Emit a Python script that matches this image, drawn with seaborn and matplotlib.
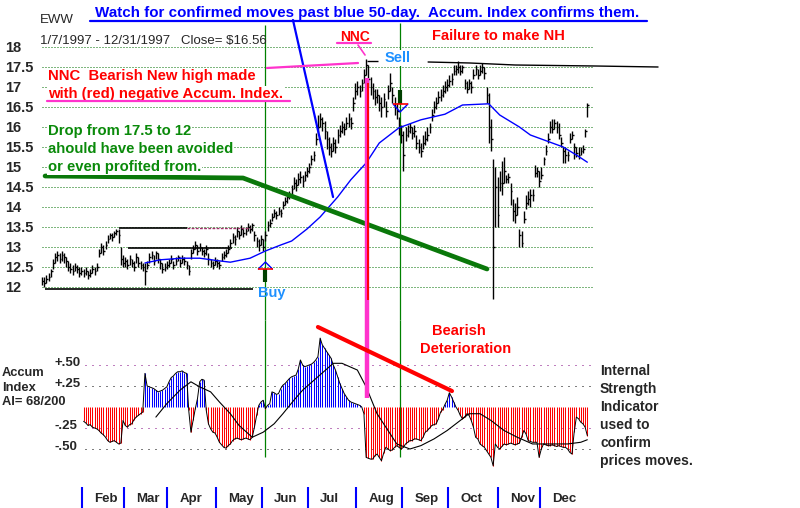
import numpy as np
import pandas as pd
import matplotlib
matplotlib.use('Agg')
import matplotlib.pyplot as plt
import seaborn as sns

# trading days 1/7/1997 - 12/31/1997
holidays = ['1997-02-17', '1997-03-28', '1997-05-26', '1997-07-04',
            '1997-09-01', '1997-11-27', '1997-12-25']
days = pd.bdate_range('1997-01-07', '1997-12-31')
days = days[~days.isin(pd.to_datetime(holidays))]

# daily bars (Jan .. Dec)
close = [12.15, 12.10, 12.20, 12.25, 12.40, 12.60, 12.75, 12.80, 12.70, 12.80, 12.75, 12.65, 12.50, 12.45, 12.40, 12.50, 12.45, 12.35, 12.40,
         12.35, 12.40, 12.30, 12.35, 12.45, 12.40, 12.50, 12.85, 13.00, 12.90, 13.05, 13.20, 13.30, 13.25, 13.35, 13.40, 13.30, 12.70, 12.60,
         12.65, 12.55, 12.70, 12.60, 12.50, 12.75, 12.60, 12.55, 12.50, 12.40, 12.55, 12.75, 12.80, 12.65, 12.85, 12.70, 12.60, 12.45, 12.50, 12.55,
         12.60, 12.70, 12.55, 12.65, 12.75, 12.60, 12.70, 12.65, 12.55, 12.40, 12.85, 12.95, 13.05, 12.90, 13.00, 12.90, 12.85, 12.95, 12.70, 12.60, 12.55, 12.65,
         12.60, 12.55, 12.75, 12.80, 12.85, 12.95, 13.10, 13.25, 13.20, 13.40, 13.30, 13.45, 13.35, 13.40, 13.50, 13.45, 13.55, 13.30, 13.15, 13.05, 13.20,
         13.00, 13.30, 13.55, 13.60, 13.75, 13.85, 13.80, 13.90, 13.85, 14.05, 14.15, 14.25, 14.30, 14.45, 14.60, 14.55, 14.70, 14.75, 14.65, 14.80, 14.90,
         15.00, 15.20, 15.30, 15.70, 16.00, 16.20, 16.10, 15.90, 15.70, 15.50, 15.40, 15.60, 15.50, 15.80, 15.90, 16.00, 15.95, 16.10, 16.20, 16.10, 16.60, 16.90,
         17.00, 16.90, 17.10, 17.30, 17.55, 17.20, 17.00, 16.90, 16.75, 16.80, 16.60, 16.50, 16.70, 16.40, 16.90, 17.10, 16.80, 16.50, 16.40, 16.00, 15.80,
         15.30, 15.80, 15.90, 16.00, 15.85, 15.90, 15.60, 15.50, 15.40, 15.60, 15.70, 15.80, 16.00, 16.30, 16.50, 16.60, 16.75, 16.80, 16.90, 17.00, 17.05,
         17.15, 17.20, 17.40, 17.45, 17.50, 17.40, 17.50, 17.10, 16.95, 17.10, 17.00, 17.30, 17.45, 17.30, 17.40, 17.50, 17.35, 16.80, 16.00, 15.70, 13.00, 14.50, 13.80,
         14.60, 14.60, 14.90, 14.70, 14.75, 14.40, 13.90, 13.80, 14.00, 13.30, 13.10, 13.70, 14.10, 14.20, 14.30, 14.30, 14.85, 14.90, 14.65,
         14.80, 15.20, 15.40, 15.70, 16.00, 15.95, 16.10, 16.00, 15.80, 15.60, 15.40, 15.30, 15.30, 15.70, 15.80, 15.50, 15.35, 15.30, 15.40, 15.45, 15.90, 16.56]
high = [12.25, 12.25, 12.30, 12.35, 12.45, 12.70, 12.85, 12.90, 12.85, 12.90, 12.85, 12.75, 12.65, 12.60, 12.55, 12.60, 12.55, 12.50, 12.50,
        12.45, 12.50, 12.40, 12.45, 12.55, 12.50, 12.60, 12.95, 13.10, 13.05, 13.15, 13.30, 13.35, 13.35, 13.40, 13.45, 13.45, 13.00, 12.80,
        12.75, 12.70, 12.80, 12.70, 12.65, 12.85, 12.75, 12.65, 12.60, 12.60, 12.65, 12.85, 12.90, 12.80, 12.90, 12.85, 12.70, 12.60, 12.60, 12.65,
        12.70, 12.80, 12.65, 12.75, 12.80, 12.70, 12.80, 12.75, 12.65, 12.55, 12.95, 13.05, 13.15, 13.05, 13.10, 13.00, 12.95, 13.05, 12.85, 12.70, 12.65, 12.75,
        12.70, 12.65, 12.85, 12.90, 12.95, 13.05, 13.20, 13.35, 13.30, 13.50, 13.40, 13.55, 13.45, 13.50, 13.60, 13.55, 13.60, 13.40, 13.25, 13.20, 13.30,
        13.20, 13.40, 13.65, 13.70, 13.85, 13.95, 13.90, 14.00, 13.95, 14.15, 14.25, 14.35, 14.40, 14.55, 14.75, 14.70, 14.85, 14.90, 14.80, 14.90, 15.00,
        15.10, 15.30, 15.40, 15.85, 16.30, 16.35, 16.25, 16.15, 15.90, 15.75, 15.60, 15.75, 15.70, 15.95, 16.05, 16.15, 16.10, 16.25, 16.35, 16.25, 16.75, 17.10,
        17.15, 17.05, 17.20, 17.45, 17.70, 17.55, 17.25, 17.10, 16.95, 16.95, 16.80, 16.75, 16.85, 16.65, 17.05, 17.35, 17.00, 16.75, 16.60, 16.25, 16.05,
        15.90, 16.00, 16.05, 16.10, 16.00, 16.05, 15.80, 15.70, 15.60, 15.80, 15.90, 16.00, 16.10, 16.45, 16.65, 16.75, 16.90, 16.95, 17.05, 17.15, 17.20,
        17.30, 17.35, 17.55, 17.55, 17.65, 17.55, 17.55, 17.20, 17.15, 17.20, 17.15, 17.45, 17.55, 17.45, 17.55, 17.60, 17.50, 17.00, 16.85, 16.20, 15.20, 15.00, 14.75,
        14.90, 15.15, 15.25, 14.80, 14.85, 14.60, 14.20, 14.10, 14.25, 13.45, 13.40, 13.90, 14.30, 14.40, 14.45, 14.45, 15.05, 15.00, 14.90,
        15.00, 15.25, 15.55, 15.85, 16.15, 16.20, 16.20, 16.15, 16.10, 15.75, 15.50, 15.50, 15.40, 15.85, 15.90, 15.60, 15.50, 15.50, 15.50, 15.55, 15.95, 16.60]
low = [12.05, 12.00, 12.10, 12.15, 12.25, 12.45, 12.60, 12.65, 12.60, 12.65, 12.60, 12.50, 12.40, 12.35, 12.30, 12.40, 12.35, 12.25, 12.30,
       12.25, 12.30, 12.20, 12.25, 12.35, 12.30, 12.40, 12.75, 12.85, 12.80, 12.95, 13.10, 13.20, 13.15, 13.25, 13.30, 13.10, 12.55, 12.50,
       12.50, 12.45, 12.55, 12.50, 12.40, 12.60, 12.50, 12.45, 12.40, 12.05, 12.45, 12.60, 12.70, 12.55, 12.70, 12.60, 12.45, 12.35, 12.40, 12.45,
       12.50, 12.60, 12.45, 12.55, 12.65, 12.50, 12.60, 12.55, 12.45, 12.30, 12.70, 12.85, 12.95, 12.80, 12.90, 12.80, 12.75, 12.80, 12.55, 12.50, 12.45, 12.55,
       12.50, 12.45, 12.65, 12.70, 12.75, 12.85, 13.00, 13.10, 13.05, 13.25, 13.20, 13.30, 13.25, 13.30, 13.40, 13.35, 13.40, 13.15, 13.00, 12.90, 13.05,
       12.90, 13.15, 13.40, 13.50, 13.65, 13.75, 13.70, 13.80, 13.75, 13.95, 14.05, 14.10, 14.20, 14.30, 14.45, 14.40, 14.55, 14.60, 14.50, 14.65, 14.75,
       14.85, 15.05, 15.15, 15.55, 15.85, 16.00, 15.90, 15.70, 15.45, 15.30, 15.25, 15.40, 15.35, 15.60, 15.75, 15.85, 15.80, 15.95, 16.00, 15.95, 16.40, 16.70,
       16.80, 16.75, 16.90, 17.10, 17.30, 17.00, 16.80, 16.70, 16.55, 16.60, 16.40, 16.25, 16.50, 16.25, 16.70, 16.90, 16.60, 16.30, 16.20, 15.80, 15.60,
       14.90, 15.65, 15.75, 15.85, 15.70, 15.75, 15.45, 15.35, 15.25, 15.45, 15.55, 15.65, 15.85, 16.15, 16.35, 16.45, 16.60, 16.65, 16.75, 16.85, 16.90,
       17.00, 17.05, 17.30, 17.30, 17.35, 17.30, 17.35, 16.95, 16.85, 16.95, 16.85, 17.20, 17.30, 17.20, 17.30, 17.35, 17.20, 16.60, 15.60, 15.40, 11.70, 13.50, 13.50,
       14.40, 14.30, 14.60, 14.60, 14.60, 14.05, 13.65, 13.60, 13.80, 13.00, 13.00, 13.60, 13.95, 14.05, 14.00, 14.15, 14.75, 14.75, 14.50,
       14.70, 15.05, 15.30, 15.60, 15.85, 15.85, 15.95, 15.85, 15.70, 15.50, 15.10, 15.10, 15.15, 15.60, 15.70, 15.20, 15.25, 15.20, 15.30, 15.35, 15.75, 16.25]

# 50-day moving average
ma_day = [47, 54, 64, 72, 80, 86, 95, 102, 109, 114, 121, 127, 135, 141, 148, 154, 163, 173, 184, 192, 204, 209, 218, 223, 238, 244, 249]
ma_val = [12.60, 12.68, 12.72, 12.72, 12.66, 12.62, 12.72, 12.90, 13.05, 13.15, 13.45, 13.75, 14.25, 14.68, 15.10, 15.60, 15.98, 16.18,
          16.32, 16.55, 16.58, 16.30, 16.00, 15.80, 15.50, 15.30, 15.12]

# accumulation index, starts at trading day 19
ai_start = 19
accum = [-0.17, -0.19, -0.22, -0.21, -0.24, -0.25, -0.26, -0.28, -0.31, -0.33,
         -0.36, -0.40, -0.42, -0.41, -0.40, -0.42, -0.44, -0.43, -0.16, -0.22,
         -0.24, -0.21, -0.20, -0.15, -0.12, -0.10, -0.08, -0.06, 0.40, 0.25,
         0.24, 0.23, 0.22, 0.20, 0.18, 0.19, 0.20, 0.22, 0.24, 0.30,
         0.35, 0.37, 0.40, 0.42, 0.42, 0.43, 0.41, 0.40, -0.04, -0.30,
         -0.16, -0.02, 0.10, 0.30, 0.33, 0.32, -0.04, -0.20, -0.26, -0.30,
         -0.31, -0.36, -0.42, -0.45, -0.48, -0.49, -0.46, -0.44, -0.40, -0.38,
         -0.37, -0.38, -0.39, -0.38, -0.37, -0.38, -0.39, -0.36, -0.24, -0.10,
         0.02, 0.06, 0.08, -0.02, 0.02, 0.04, 0.18, 0.17, 0.15, 0.16,
         0.22, 0.26, 0.28, 0.31, 0.34, 0.36, 0.37, 0.38, 0.45, 0.56,
         0.50, 0.48, 0.49, 0.50, 0.51, 0.53, 0.56, 0.60, 0.82, 0.74,
         0.70, 0.66, 0.62, 0.58, 0.50, 0.44, 0.36, 0.28, 0.22, 0.16,
         0.12, 0.08, 0.06, 0.05, 0.04, 0.03, 0.02, 0.00, -0.08, -0.60,
         -0.61, -0.62, -0.62, -0.58, -0.56, -0.60, -0.64, -0.55, -0.48, -0.50,
         -0.52, -0.51, -0.48, -0.46, -0.48, -0.50, -0.48, -0.44, -0.42, -0.40,
         -0.40, -0.38, -0.38, -0.39, -0.40, -0.36, -0.30, -0.28, -0.25, -0.22,
         -0.21, -0.20, -0.14, -0.06, -0.03, 0.03, 0.08, 0.17, 0.12, 0.06,
         0.00, -0.04, -0.10, -0.14, -0.12, -0.08, -0.10, -0.16, -0.24, -0.36,
         -0.38, -0.44, -0.46, -0.48, -0.52, -0.56, -0.60, -0.70, -0.44, -0.48,
         -0.50, -0.47, -0.44, -0.45, -0.44, -0.43, -0.44, -0.45, -0.44, -0.43,
         -0.36, -0.28, -0.32, -0.40, -0.41, -0.42, -0.42, -0.42, -0.60, -0.50,
         -0.44, -0.45, -0.46, -0.46, -0.45, -0.46, -0.47, -0.46, -0.47, -0.48,
         -0.48, -0.50, -0.54, -0.56, -0.30, -0.12, -0.14, -0.18, -0.20, -0.24, -0.34]

# black smoothing line of the accumulation index
ai_ma_day = [52, 57, 63, 68, 72, 77, 81, 86, 90, 96, 101, 106, 110, 115, 119, 126, 133, 137, 144, 148, 153, 158, 162,
             168, 173, 179, 185, 191, 195, 200, 205, 211, 217, 224, 232, 240, 246, 249]
ai_ma_val = [-0.12, 0.04, 0.20, 0.30, 0.24, 0.18, 0.06, -0.08, -0.22, -0.36, -0.30, -0.20, -0.08, 0.08, 0.20, 0.36, 0.52,
             0.52, 0.44, 0.24, -0.08, -0.28, -0.44, -0.50, -0.46, -0.38, -0.28, -0.16, -0.08, -0.08, -0.16, -0.28, -0.36,
             -0.44, -0.44, -0.44, -0.42, -0.39]

price_ticks = [18, 17.5, 17, 16.5, 16, 15.5, 15, 14.5, 14, 13.5, 13, 12.5, 12]
price_labels = ['18', '17.5', '17', '16.5', '16', '15.5', '15', '14.5', '14', '13.5', '13', '12.5', '12']
ai_ticks = [0.5, 0.25, -0.25, -0.5]
ai_labels = ['+.50', '+.25', '-.25', '-.50']
month_names = ['Feb', 'Mar', 'Apr', 'May', 'Jun', 'Jul', 'Aug', 'Sep', 'Oct', 'Nov', 'Dec']

df = pd.DataFrame({'date': days, 'close': close, 'high': high, 'low': low})
df['day'] = np.arange(len(df))
ai = pd.DataFrame({'day': np.arange(ai_start, ai_start + len(accum)), 'ai': accum})
ai['color'] = np.where(ai['ai'] >= 0, '#0000ff', '#ff0000')

sns.set_style('white')
plt.rcParams['font.family'] = ['Liberation Sans', 'DejaVu Sans']

W, H = 800, 508
fig = plt.figure(figsize=(W / 100, H / 100), dpi=100)
xlim = (-2 / 2.19, 558 / 2.19)
ax1 = fig.add_axes([40 / W, 1 - 300 / H, 560 / W, 270 / H])
ax2 = fig.add_axes([40 / W, 1 - 470 / H, 560 / W, 150 / H])
ax3 = fig.add_axes([40 / W, 0, 560 / W, 22 / H])
for ax in (ax1, ax2, ax3):
    ax.set_xlim(xlim)
    ax.set_xticks([])
    for s in ax.spines.values():
        s.set_visible(False)
    ax.patch.set_alpha(0)
ax1.set_ylim(11.675, 18.425)
ax2.set_ylim(-0.75, 1.0357)
ax3.set_ylim(0, 1)
ax2.set_yticks([])
ax3.set_yticks([])

# ---- price panel
ax1.set_yticks(price_ticks, labels=price_labels)
ax1.tick_params(axis='y', length=0, pad=25, labelsize=10.5)
for lab in ax1.get_yticklabels():
    lab.set_horizontalalignment('left')
    lab.set_fontweight('bold')
ax1.hlines(price_ticks, 0, 251.5, color='#007000', lw=0.72, ls=(0, (1, 2)), zorder=0)

ax1.vlines(df['day'], df['low'], df['high'], color='black', lw=1)
ax1.hlines(df['close'], df['day'], df['day'] + 0.8, color='black', lw=1)
sns.lineplot(x=ma_day, y=ma_val, ax=ax1, color='#0000ff', lw=1)

# support / resistance lines
ax1.hlines(11.96, 1.4, 96.3, color='black', lw=1.2)
ax1.hlines(13.475, 35.2, 66, color='black', lw=1.2)
ax1.hlines(13.475, 66, 95, color='#a0306a', lw=1, ls=(0, (2, 1)))
ax1.hlines(12.975, 39.3, 86.8, color='black', lw=1.2)
ax1.hlines(17.65, 148.4, 153.4, color='black', lw=1)
ax1.plot([176.3, 195.4, 216, 252.5, 281.3], [17.625, 17.6, 17.55, 17.525, 17.5], color='black', lw=1, clip_on=False)

# buy / sell signal lines
for d, top in [(102, 18.55), (163.5, 18.6)]:
    ax1.vlines(d, 11.175, top, color='#008000', lw=0.9, clip_on=False, zorder=1)
    ax2.vlines(d, -0.595, 1.0357, color='#008000', lw=0.9, clip_on=False, zorder=1)
ax1.vlines(102, 12.125, 12.45, color='#004000', lw=3)
ax1.plot([98.8, 102, 105.2], [12.45, 12.625, 12.45], color='#0000ff', lw=1)
ax1.hlines(12.45, 98.6, 105.5, color='#ff0000', lw=1.2)
ax1.vlines(163.5, 16.575, 16.925, color='#004000', lw=3)
ax1.plot([160.3, 163.5, 167.1], [16.575, 16.375, 16.575], color='#0000ff', lw=1)
ax1.hlines(16.575, 160.3, 167.1, color='#ff0000', lw=1.2)

# annotation lines
ax1.plot([1.4, 91.8, 203.2], [14.775, 14.725, 12.45], color='#0a780a', lw=3.4, solid_capstyle='round', zorder=4)
ax1.plot([114.6, 132.9], [18.675, 14.25], color='#0000ff', lw=1.6, clip_on=False, zorder=4)
ax1.plot([21.9, 276.3], [18.65, 18.65], color='#0000ff', lw=1.6, clip_on=False, zorder=6)
ax1.plot([102.7, 144.3], [17.475, 17.6], color='#ff33cc', lw=1.6, zorder=4)
ax1.plot([144.3, 147.5], [18.05, 17.8], color='#ff33cc', lw=1.2, clip_on=False, zorder=4)
ax1.plot([134.7, 150.2], [18.1, 18.1], color='#ff33cc', lw=1.6, clip_on=False, zorder=6)
ax1.plot([2.3, 113.2], [16.65, 16.65], color='#ff33cc', lw=1.6, zorder=6)
ax1.vlines(148.4, 11.175, 17.225, color='#ff33cc', lw=3.2, clip_on=False, zorder=4)
ax1.vlines(148.9, 11.675, 17.1, color='#ff0000', lw=1.4, zorder=4)
ax2.vlines(148.4, 0.107, 1.0357, color='#ff33cc', lw=3.2, clip_on=False, zorder=4)

box = dict(facecolor='white', edgecolor='none', pad=0.5)
bold = dict(fontweight='bold', va='center', ha='left', zorder=5)
ax1.text(24.2, 18.85, 'Watch for confirmed moves past blue 50-day.  Accum. Index confirms them.',
         color='#0000ff', fontsize=10.9, clip_on=False, **bold)
ax1.text(-0.9, 18.675, 'EWW', fontsize=9.5, va='center', ha='left')
ax1.text(-0.9, 18.15, '1/7/1997 - 12/31/1997   Close= $16.56', fontsize=9.5, va='center', ha='left')
ax1.text(136.1, 18.25, 'NNC', color='#ff0000', fontsize=10, **bold)
ax1.text(156.6, 17.725, 'Sell', color='#1e90ff', fontsize=10.5, bbox=box, **bold)
ax1.text(178.1, 18.275, 'Failure to make NH', color='#ff0000', fontsize=10.5, **bold)
ax1.text(2.7, 17.275, 'NNC  Bearish New high made', color='#ff0000', fontsize=10.7, bbox=box, **bold)
ax1.text(2.7, 16.825, 'with (red) negative Accum. Index.', color='#ff0000', fontsize=10.7, bbox=box, **bold)
for y, s in [(15.9, 'Drop from 17.5 to 12'), (15.45, 'ahould have been avoided'), (15.0, 'or even profited from.')]:
    ax1.text(2.7, y, s, color='#0a8a0a', fontsize=10.7, bbox=box, **bold)
ax1.text(98.6, 11.85, 'Buy', color='#1e90ff', fontsize=10.5, clip_on=False, **bold)

# ---- accumulation index panel
for v, col in zip(ai_ticks, ['#800080', 'black', '#800080', 'black']):
    ax2.hlines(v, 19.6, 251, color=col, lw=0.72, ls=(0, (1, 6)), zorder=0)
ax2.vlines(ai['day'], 0, ai['ai'], colors=ai['color'], lw=0.75)
sns.lineplot(data=ai, x='day', y='ai', ax=ax2, color='black', lw=0.7)
sns.lineplot(x=ai_ma_day, y=ai_ma_val, ax=ax2, color='black', lw=0.8)
ax2.set_xlabel('')
ax2.set_ylabel('')
ax1.set_xlabel('')
ax1.set_ylabel('')
ax2.plot([126, 187.2], [0.952, 0.19], color='#ff0000', lw=3, solid_capstyle='round', zorder=4)

for v, s in zip(ai_ticks, ai_labels):
    ax2.text(5.9, v + 0.02, s, fontsize=9.5, **bold)
for v, s in [(0.405, 'Accum'), (0.226, 'Index'), (0.06, 'AI= 68/200')]:
    ax2.text(-18.3, v, s, fontsize=9.3, clip_on=False, **bold)
ax2.text(178.1, 0.905, 'Bearish', color='#ff0000', fontsize=10.5, **bold)
ax2.text(172.6, 0.69, 'Deterioration', color='#ff0000', fontsize=10.5, **bold)
for v, s in [(0.43, 'Internal'), (0.214, 'Strength'), (0.0, 'Indicator'), (-0.214, 'used to'),
             (-0.43, 'confirm'), (-0.643, 'prices moves.')]:
    ax2.text(254.8, v, s, fontsize=10, clip_on=False, **bold)

# ---- month strip
firsts = df.groupby(df['date'].dt.month)['day'].min()
for m, name in zip(range(2, 13), month_names):
    sep = firsts[m] - 0.75
    ax3.vlines(sep, 0, 0.95, color='#0000ff', lw=1.5)
    ax3.text(sep + 5.7, 0.41, name, fontsize=9.5, **bold)

fig.savefig('out.png', dpi=100)
